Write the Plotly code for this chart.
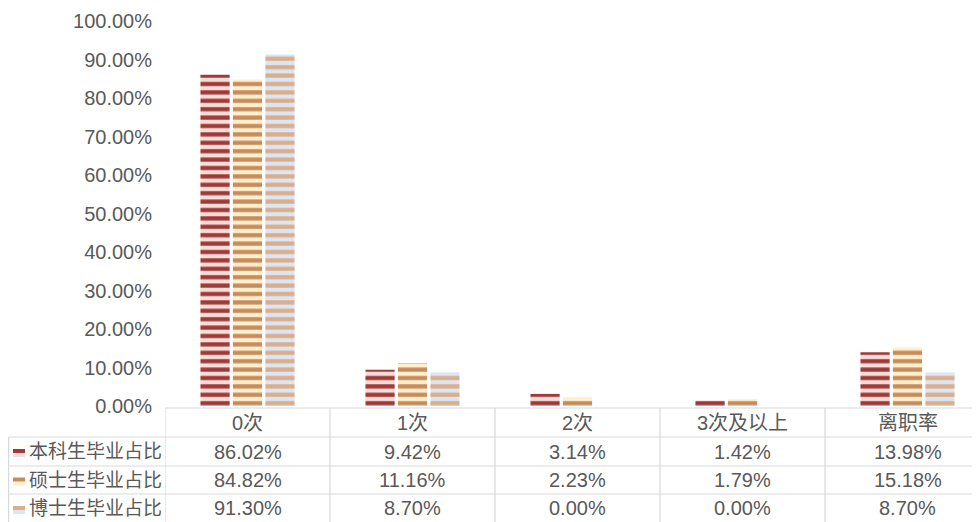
import plotly.graph_objects as go

categories = ["0次", "1次", "2次", "3次及以上", "离职率"]
series_names = ["本科生毕业占比", "硕士生毕业占比", "博士生毕业占比"]
bachelor = [86.02, 9.42, 3.14, 1.42, 13.98]
master = [84.82, 11.16, 2.23, 1.79, 15.18]
doctor = [91.30, 8.70, 0.00, 0.00, 8.70]
y_ticks = [0, 10, 20, 30, 40, 50, 60, 70, 80, 90, 100]

series_values = [bachelor, master, doctor]
fg_colors = ["#9E3A3B", "#C88B60", "#D8AE8C"]
bg_colors = ["#F8DDD6", "#FDF0CA", "#DDE5F2"]

OFF = 8  # page body margin
W, H = 980 - OFF, 522 - OFF
L, T, B_PX = 165 - OFF, 21 - OFF, 406 - OFF  # plot left, top, bottom pixel (figure coords)
PLOT_W = W - L
PLOT_H = B_PX - T
TEXT = "#595959"
GRID = "#D9D9D9"
FONT = "Liberation Sans, Noto Sans CJK SC, sans-serif"
FS = 20


def py(p):  # page pixel y -> paper y
    return (B_PX - (p - OFF)) / PLOT_H


def px(p):  # page pixel x -> paper x
    return ((p - OFF) - L) / PLOT_W


fig = go.Figure()
for name, vals, fg, bg in zip(series_names, series_values, fg_colors, bg_colors):
    fig.add_trace(go.Bar(
        x=categories, y=vals, name=name,
        marker=dict(color=bg, line=dict(width=0),
                    pattern=dict(shape="-", fgcolor=fg, bgcolor=bg,
                                 size=8.4, solidity=0.5, fillmode="replace")),
        hoverinfo="x+y+name",
    ))

n = len(categories)
col_px = 165
x_max = -0.5 + PLOT_W / col_px

shapes = []
line = dict(color=GRID, width=1.2)
row_lines = [408, 437, 466, 494, 523]
shapes.append(dict(type="line", xref="paper", yref="paper", x0=0, x1=1.03,
                   y0=py(row_lines[0]), y1=py(row_lines[0]), line=line))
for yl in row_lines[1:4]:
    shapes.append(dict(type="line", xref="paper", yref="paper", x0=px(8.6), x1=1.03,
                       y0=py(yl), y1=py(yl), line=line))
for i in range(n):
    shapes.append(dict(type="line", xref="x", yref="paper", x0=i - 0.5, x1=i - 0.5,
                       y0=py(row_lines[0]), y1=py(524), line=line))
shapes.append(dict(type="line", xref="paper", yref="paper", x0=px(8.6), x1=px(8.6),
                   y0=py(row_lines[1]), y1=py(524), line=line))

annotations = []
header_cy = (row_lines[0] + row_lines[1]) / 2
for i, c in enumerate(categories):
    annotations.append(dict(x=i, xref="x", y=py(header_cy), yref="paper", text=c,
                            showarrow=False, xanchor="center", yanchor="middle",
                            font=dict(size=FS, color=TEXT, family=FONT)))
for r, (name, vals) in enumerate(zip(series_names, series_values)):
    cy = (row_lines[r + 1] + row_lines[r + 2]) / 2
    for i, v in enumerate(vals):
        annotations.append(dict(x=i, xref="x", y=py(cy), yref="paper", text=f"{v:.2f}%",
                                showarrow=False, xanchor="center", yanchor="middle",
                                font=dict(size=FS, color=TEXT, family=FONT)))
    annotations.append(dict(x=px(27), xref="paper", y=py(cy), yref="paper", text=name,
                            showarrow=False, xanchor="left", yanchor="middle",
                            font=dict(size=FS - 1, color=TEXT, family=FONT)))
    shapes.append(dict(type="rect", xref="paper", yref="paper", x0=px(13), x1=px(25),
                       y0=py(cy + 5.5), y1=py(cy + 1.5), fillcolor=bg_colors[r], line=dict(width=0)))
    shapes.append(dict(type="rect", xref="paper", yref="paper", x0=px(13), x1=px(25),
                       y0=py(cy + 1.5), y1=py(cy - 2.5), fillcolor=fg_colors[r], line=dict(width=0)))

fig.update_layout(
    width=W, height=H,
    margin=dict(l=L, r=0, t=T, b=H - B_PX, pad=0),
    paper_bgcolor="white", plot_bgcolor="white",
    barmode="group", bargap=0.41, bargroupgap=0.1,
    showlegend=False,
    font=dict(family=FONT, color=TEXT, size=FS),
    xaxis=dict(range=[-0.5, x_max], showticklabels=False, showgrid=False,
               zeroline=False, showline=False, ticks=""),
    yaxis=dict(range=[0, 100], tickvals=y_ticks, ticktext=[f"{t:.2f}%" for t in y_ticks],
               showgrid=False, zeroline=False, showline=False, ticks="",
               tickfont=dict(size=FS, color=TEXT, family=FONT), ticklabelstandoff=12),
    shapes=shapes, annotations=annotations,
)

fig.write_html("out.html")
